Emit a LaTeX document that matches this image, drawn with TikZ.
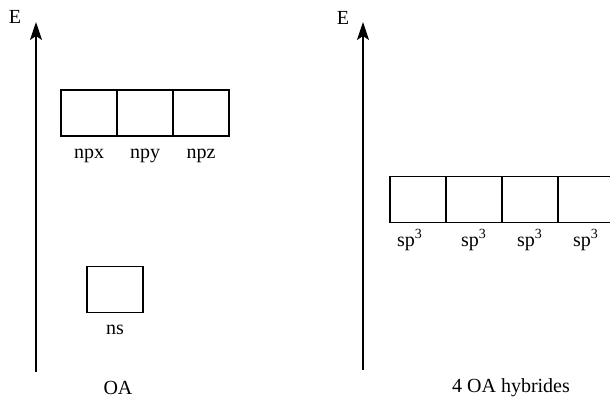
\documentclass[tikz,border=0pt]{standalone}
\usepackage{fontspec}
\setmainfont{Liberation Serif}
\usetikzlibrary{positioning,arrows.meta}
\begin{document}
\begin{tikzpicture}[
					x = 0.5pt, y = -0.5pt,
					every node/.style = {font=\fontsize{10}{12}\selectfont},
					orb/.style = {draw, line width=0.8pt, minimum width=28pt, minimum height=23pt, inner sep=0pt, outer sep=0pt},
					axe/.style = {line width=0.9pt, -{Stealth[length=9pt,width=6pt,inset=2pt]}}]

					\clip (0,0) rectangle (610,401);

					\coordinate (b1) at (36,372);
					\coordinate (t1) at (36,22);
					\draw[axe] (b1) -- (t1);
					\node (e1) at (15,17) {E};

					\node[orb] (npx) at (89,113) {};
					\node[orb, right=0pt of npx] (npy) {};
					\node[orb, right=0pt of npy] (npz) {};
					\node[below=3pt of npx] (lpx) {npx};
					\node[below=3pt of npy] (lpy) {npy};
					\node[below=3pt of npz] (lpz) {npz};

					\node[orb] (ns) at (115,289.5) {};
					\node[below=3pt of ns] (lns) {ns};
					\node (oa) at (118,388) {OA};

					\coordinate (b2) at (363,370);
					\coordinate (t2) at (363,22);
					\draw[axe] (b2) -- (t2);
					\node (e2) at (343,18) {E};

					\node[orb] (sp1) at (418,199.5) {};
					\node[orb, right=0pt of sp1] (sp2) {};
					\node[orb, right=0pt of sp2] (sp3) {};
					\node[orb, right=0pt of sp3] (sp4) {};
					\node[below=0pt of sp1.south west, anchor=north west] (l1) {sp\textsuperscript{3}};
					\node[below=0pt of sp2] (l2) {sp\textsuperscript{3}};
					\node[below=0pt of sp3] (l3) {sp\textsuperscript{3}};
					\node[below=0pt of sp4] (l4) {sp\textsuperscript{3}};
					\node (hyb) at (511,388) {4 OA hybrides};

				\end{tikzpicture}
\end{document}
